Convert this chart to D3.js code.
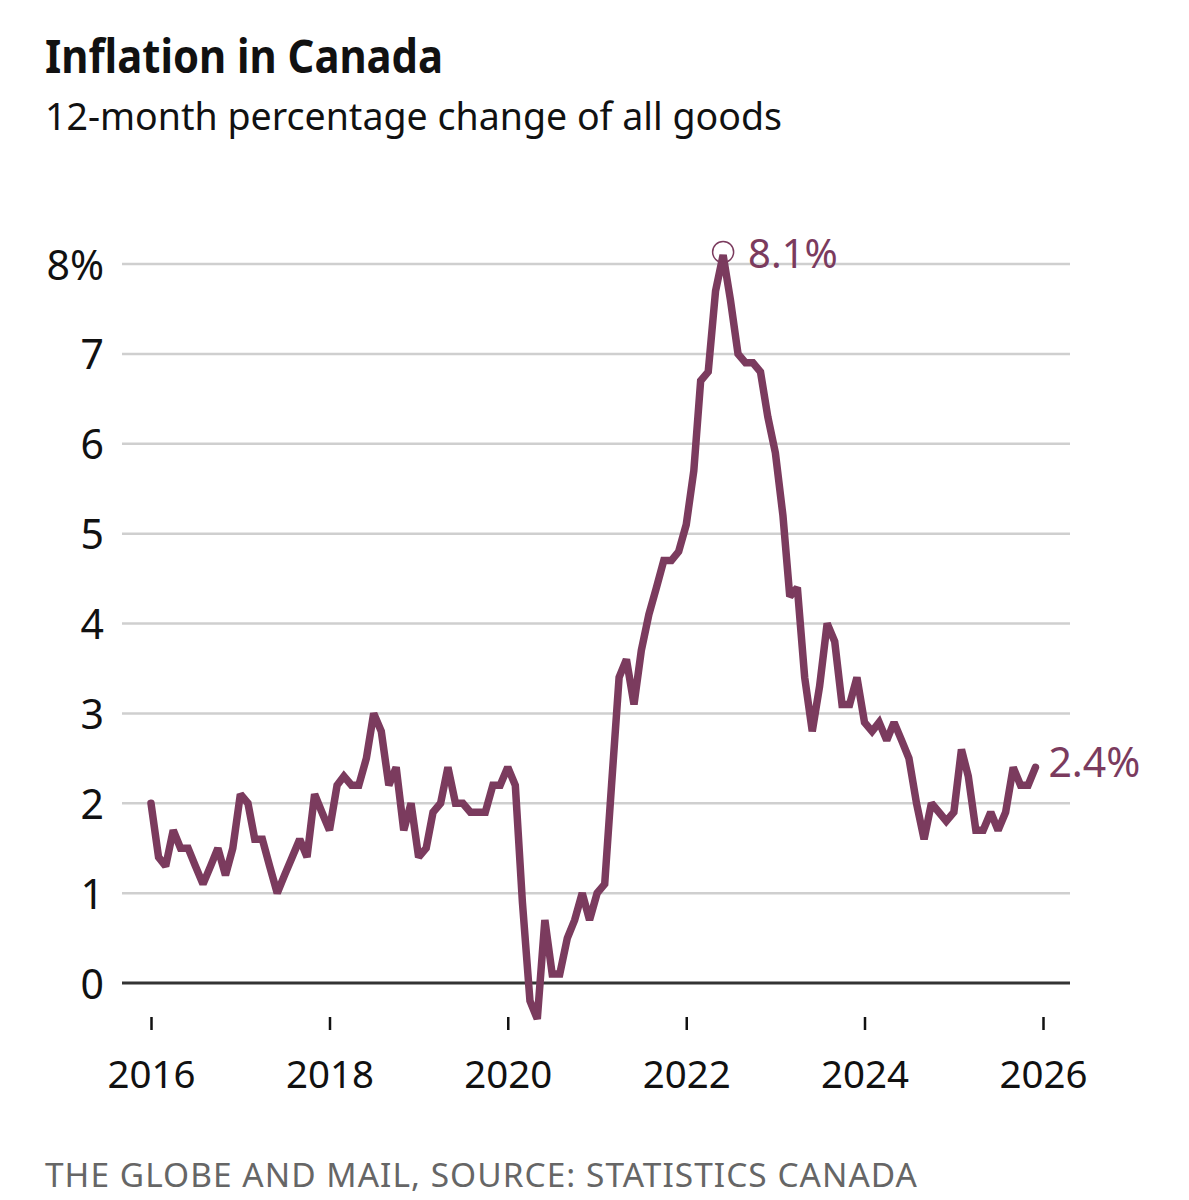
<!DOCTYPE html>
<html lang="en">
<head>
<meta charset="utf-8">
<script src="https://d3js.org/d3.v7.min.js"></script>
<style>
  body { margin: 0; background: #fff; }
  text { font-family: "Noto Sans", "Open Sans", sans-serif; }
</style>
</head>
<body>
<svg width="1189" height="1200"></svg>
<script>
// Monthly 12-month CPI change, Jan 2016 .. Dec 2025
var startYear = 2016;
var values = [
  2.0, 1.4, 1.3, 1.7, 1.5, 1.5, 1.3, 1.1, 1.3, 1.5, 1.2, 1.5,   // 2016
  2.1, 2.0, 1.6, 1.6, 1.3, 1.0, 1.2, 1.4, 1.6, 1.4, 2.1, 1.9,   // 2017
  1.7, 2.2, 2.3, 2.2, 2.2, 2.5, 3.0, 2.8, 2.2, 2.4, 1.7, 2.0,   // 2018
  1.4, 1.5, 1.9, 2.0, 2.4, 2.0, 2.0, 1.9, 1.9, 1.9, 2.2, 2.2,   // 2019
  2.4, 2.2, 0.9, -0.2, -0.4, 0.7, 0.1, 0.1, 0.5, 0.7, 1.0, 0.7, // 2020
  1.0, 1.1, 2.2, 3.4, 3.6, 3.1, 3.7, 4.1, 4.4, 4.7, 4.7, 4.8,   // 2021
  5.1, 5.7, 6.7, 6.8, 7.7, 8.1, 7.6, 7.0, 6.9, 6.9, 6.8, 6.3,   // 2022
  5.9, 5.2, 4.3, 4.4, 3.4, 2.8, 3.3, 4.0, 3.8, 3.1, 3.1, 3.4,   // 2023
  2.9, 2.8, 2.9, 2.7, 2.9, 2.7, 2.5, 2.0, 1.6, 2.0, 1.9, 1.8,   // 2024
  1.9, 2.6, 2.3, 1.7, 1.7, 1.9, 1.7, 1.9, 2.4, 2.2, 2.2, 2.4    // 2025
];
var yTicks = [0, 1, 2, 3, 4, 5, 6, 7, 8];
var xTickYears = [2016, 2018, 2020, 2022, 2024, 2026];

var data = values.map(function(v, i) {
  return { date: new Date(startYear, i, 1), value: v };
});

var lineColor = "#7b3b5e";

var svg = d3.select("svg");

var x = d3.scaleTime()
    .domain([new Date(2016, 0, 1), new Date(2026, 0, 1)])
    .range([151, 1043]);

var y = d3.scaleLinear()
    .domain([0, 8])
    .range([983, 264]);

// Title block
svg.append("text")
    .attr("x", 45).attr("y", 73)
    .attr("font-size", 46).attr("font-weight", "bold")
    .attr("textLength", 398).attr("lengthAdjust", "spacingAndGlyphs")
    .attr("fill", "#111")
    .text("Inflation in Canada");

svg.append("text")
    .attr("x", 45).attr("y", 130)
    .attr("font-size", 39)
    .attr("textLength", 737).attr("lengthAdjust", "spacingAndGlyphs")
    .attr("fill", "#111")
    .text("12-month percentage change of all goods");

// Gridlines
svg.append("g")
  .selectAll("line")
  .data(yTicks)
  .join("line")
    .attr("x1", 122).attr("x2", 1070)
    .attr("y1", function(d) { return y(d); })
    .attr("y2", function(d) { return y(d); })
    .attr("stroke", function(d) { return d === 0 ? "#333" : "#cfcfcf"; })
    .attr("stroke-width", function(d) { return d === 0 ? 3 : 2.5; });

// Y labels
svg.append("g")
  .selectAll("text")
  .data(yTicks)
  .join("text")
    .attr("x", 104)
    .attr("y", function(d) { return y(d); })
    .attr("dy", "0.38em")
    .attr("text-anchor", "end")
    .attr("font-size", 41)
    .attr("fill", "#111")
    .text(function(d) { return d === 8 ? "8%" : d; });

// X axis ticks + labels
var xAxis = d3.axisBottom(x)
    .tickValues(xTickYears.map(function(yr) { return new Date(yr, 0, 1); }))
    .tickFormat(d3.timeFormat("%Y"))
    .tickSize(13)
    .tickPadding(30);

var gx = svg.append("g")
    .attr("transform", "translate(0,1017)")
    .call(xAxis);
gx.select(".domain").remove();
gx.selectAll(".tick line").attr("stroke", "#111").attr("stroke-width", 2.5);
gx.selectAll(".tick text")
    .attr("font-size", 39)
    .attr("font-family", "Noto Sans, sans-serif")
    .attr("textLength", 88).attr("lengthAdjust", "spacingAndGlyphs")
    .attr("fill", "#111");

// Line
var line = d3.line()
    .x(function(d) { return x(d.date); })
    .y(function(d) { return y(d.value); });

svg.append("path")
    .datum(data)
    .attr("fill", "none")
    .attr("stroke", lineColor)
    .attr("stroke-width", 7.5)
    .attr("stroke-linejoin", "miter")
    .attr("stroke-miterlimit", 2)
    .attr("stroke-linecap", "round")
    .attr("d", line);

// Peak annotation
var peak = data.reduce(function(a, b) { return b.value > a.value ? b : a; });
svg.append("circle")
    .attr("cx", x(peak.date))
    .attr("cy", y(peak.value) - 3)
    .attr("r", 10.5)
    .attr("fill", "none")
    .attr("stroke", lineColor)
    .attr("stroke-width", 1.5);

svg.append("text")
    .attr("x", x(peak.date) + 25)
    .attr("y", y(peak.value) - 1)
    .attr("dy", "0.36em")
    .attr("font-size", 40)
    .attr("fill", lineColor)
    .text(peak.value.toFixed(1) + "%");

// Last value annotation
var last = data[data.length - 1];
svg.append("text")
    .attr("x", x(last.date) + 13)
    .attr("y", y(last.value) - 5)
    .attr("dy", "0.36em")
    .attr("font-size", 41)
    .attr("fill", lineColor)
    .text(last.value.toFixed(1) + "%");

// Footer
svg.append("text")
    .attr("x", 45).attr("y", 1187)
    .attr("font-size", 32)
    .attr("letter-spacing", 1)
    .attr("textLength", 873).attr("lengthAdjust", "spacingAndGlyphs")
    .attr("fill", "#666")
    .text("THE GLOBE AND MAIL, SOURCE: STATISTICS CANADA");
</script>
</body>
</html>
